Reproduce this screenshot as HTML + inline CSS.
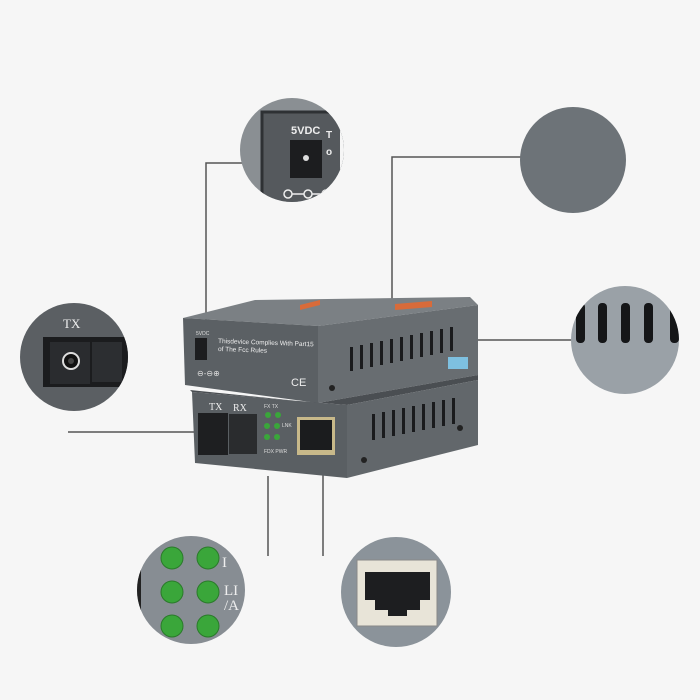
<!DOCTYPE html>
<html><head><meta charset="utf-8"><style>
html,body{margin:0;padding:0;background:#f6f6f6;}
svg{display:block;font-family:"Liberation Sans",sans-serif;}
</style></head><body>
<svg width="700" height="700" viewBox="0 0 700 700" xmlns="http://www.w3.org/2000/svg">
<defs>
<clipPath id="cp"><circle cx="292" cy="150" r="52"/></clipPath>
<clipPath id="ct"><circle cx="74" cy="357" r="54"/></clipPath>
<clipPath id="cv"><circle cx="625" cy="340" r="54"/></clipPath>
<clipPath id="cl"><circle cx="191" cy="590" r="54"/></clipPath>
<clipPath id="cr"><circle cx="396" cy="592" r="55"/></clipPath>
</defs>
<rect width="700" height="700" fill="#f6f6f6"/>
<!-- connector lines -->
<g stroke="#555" stroke-width="1.5" fill="none">
<polyline points="244,163 206,163 206,340"/>
<polyline points="521,157 392,157 392,300"/>
<line x1="455" y1="340" x2="573" y2="340"/>
<line x1="68" y1="432" x2="198" y2="432"/>
<line x1="268" y1="476" x2="268" y2="556"/>
<line x1="323" y1="472" x2="323" y2="556"/>
</g>
<!-- power circle -->
<g clip-path="url(#cp)">
<rect x="238" y="95" width="110" height="110" fill="#8a8f93"/>
<rect x="262" y="112" width="90" height="100" fill="#55595d" stroke="#2e3134" stroke-width="3"/>
<rect x="340" y="95" width="10" height="110" fill="#f6f6f6"/>
<text x="291" y="134" fill="#eee" font-size="11" font-weight="bold">5VDC</text>
<rect x="290" y="140" width="32" height="38" fill="#1c1d1f"/>
<circle cx="306" cy="158" r="3" fill="#ddd"/>
<text x="326" y="138" fill="#eee" font-size="10" font-weight="bold">T</text>
<text x="326" y="155" fill="#eee" font-size="10" font-weight="bold">o</text>
<g stroke="#eee" stroke-width="1.5" fill="none"><circle cx="288" cy="194" r="4"/><circle cx="308" cy="194" r="4"/><circle cx="326" cy="194" r="4"/><line x1="292" y1="194" x2="304" y2="194"/><line x1="312" y1="194" x2="322" y2="194"/></g>
</g>
<!-- plain circle -->
<circle cx="573" cy="160" r="53" fill="#6d7378"/>
<!-- TX circle -->
<g clip-path="url(#ct)">
<rect x="18" y="300" width="112" height="115" fill="#5b5f63"/>
<text x="63" y="328" fill="#eee" font-size="13" font-family="Liberation Serif,serif">TX</text>
<rect x="43" y="337" width="90" height="50" fill="#1b1c1e"/>
<rect x="50" y="342" width="40" height="42" fill="#2a2c2f"/>
<rect x="92" y="342" width="30" height="40" fill="#2c2e31"/>
<circle cx="71" cy="361" r="8" fill="#111" stroke="#ddd" stroke-width="2"/>
<circle cx="71" cy="361" r="3" fill="#444"/>
</g>
<!-- vent circle -->
<g clip-path="url(#cv)">
<rect x="568" y="283" width="115" height="115" fill="#9aa1a7"/>
<g fill="#151618"><rect x="576" y="303" width="9" height="40" rx="4"/><rect x="598" y="303" width="9" height="40" rx="4"/><rect x="621" y="303" width="9" height="40" rx="4"/><rect x="644" y="303" width="9" height="40" rx="4"/><rect x="670" y="303" width="9" height="40" rx="4"/></g>
</g>
<!-- LED circle -->
<g clip-path="url(#cl)">
<rect x="135" y="534" width="115" height="115" fill="#878d93"/>
<rect x="135" y="570" width="6" height="40" fill="#222"/>
<g fill="#3aa63a" stroke="#2a7a2a" stroke-width="1"><circle cx="172" cy="558" r="11"/><circle cx="208" cy="558" r="11"/><circle cx="172" cy="592" r="11"/><circle cx="208" cy="592" r="11"/><circle cx="172" cy="626" r="11"/><circle cx="208" cy="626" r="11"/></g>
<text x="224" y="595" fill="#eee" font-size="15" font-family="Liberation Serif,serif">LI</text>
<text x="224" y="610" fill="#eee" font-size="15" font-family="Liberation Serif,serif">/A</text>
<text x="222" y="567" fill="#eee" font-size="15" font-family="Liberation Serif,serif">I</text>
</g>
<!-- RJ45 circle -->
<g clip-path="url(#cr)">
<rect x="338" y="535" width="118" height="115" fill="#8b939a"/>
<rect x="357" y="560" width="80" height="66" fill="#e8e4d8" stroke="#888" stroke-width="1"/>
<path d="M365,572 H430 V600 H420 V610 H407 V616 H388 V610 H375 V600 H365 Z" fill="#1d1e20"/>
</g>
<!-- device: top unit -->
<polygon points="183,318 255,300 470,297 478,305 318,326" fill="#7b8084"/>
<polygon points="300,305 320,300 320,305 300,310" fill="#d86b3a"/>
<polygon points="395,304 432,301 432,307 395,310" fill="#d86b3a"/>
<polygon points="183,318 318,326 318,403 185,385" fill="#5b6064"/>
<polygon points="318,326 478,305 478,375 318,403" fill="#686d71"/>
<!-- bottom unit -->
<polygon points="190,390 318,403 478,375 478,380 347,405 192,392" fill="#4a4e52"/>
<polygon points="192,392 347,405 347,478 195,463" fill="#5a5f63"/>
<polygon points="347,405 478,380 478,445 347,478" fill="#62676b"/>
<!-- top details -->
<rect x="195" y="338" width="12" height="22" fill="#1c1d1f"/>
<text x="196" y="335" fill="#ddd" font-size="5">5VDC</text>
<text x="218" y="343" fill="#eee" font-size="6.5" transform="rotate(2 218 343)">Thisdevice Complies With Part15</text>
<text x="218" y="351" fill="#eee" font-size="6.5" transform="rotate(2 218 351)">of The Fcc Rules</text>
<text x="197" y="376" fill="#ddd" font-size="8">⊖-⊖⊕</text>
<text x="291" y="386" fill="#eee" font-size="11">CE</text>
<g fill="#1a1b1d">
<rect x="350" y="347" width="3" height="24"/><rect x="360" y="345" width="3" height="24"/><rect x="370" y="343" width="3" height="24"/><rect x="380" y="341" width="3" height="24"/><rect x="390" y="339" width="3" height="24"/><rect x="400" y="337" width="3" height="24"/><rect x="410" y="335" width="3" height="24"/><rect x="420" y="333" width="3" height="24"/><rect x="430" y="331" width="3" height="24"/><rect x="440" y="329" width="3" height="24"/><rect x="450" y="327" width="3" height="24"/>
</g>
<rect x="448" y="357" width="20" height="12" fill="#7ec0e0"/>
<circle cx="332" cy="388" r="3" fill="#222"/>
<!-- bottom details -->
<text x="209" y="410" fill="#eee" font-size="10" font-family="Liberation Serif,serif">TX</text>
<text x="233" y="411" fill="#eee" font-size="10" font-family="Liberation Serif,serif">RX</text>
<rect x="198" y="413" width="30" height="42" fill="#1e1f21"/>
<rect x="229" y="414" width="28" height="40" fill="#2a2c2e"/>
<g fill="#3aa63a"><circle cx="268" cy="415" r="3"/><circle cx="278" cy="415" r="3"/><circle cx="267" cy="426" r="3"/><circle cx="277" cy="426" r="3"/><circle cx="267" cy="437" r="3"/><circle cx="277" cy="437" r="3"/></g>
<text x="264" y="408" fill="#ddd" font-size="5">FX TX</text>
<text x="282" y="427" fill="#ddd" font-size="5">LNK</text>
<text x="264" y="453" fill="#ddd" font-size="5">FDX PWR</text>
<rect x="297" y="417" width="38" height="38" fill="#c8b98a"/>
<rect x="300" y="420" width="32" height="30" fill="#1b1c1e"/>
<g fill="#1a1b1d">
<rect x="372" y="414" width="3" height="26"/><rect x="382" y="412" width="3" height="26"/><rect x="392" y="410" width="3" height="26"/><rect x="402" y="408" width="3" height="26"/><rect x="412" y="406" width="3" height="26"/><rect x="422" y="404" width="3" height="26"/><rect x="432" y="402" width="3" height="26"/><rect x="442" y="400" width="3" height="26"/><rect x="452" y="398" width="3" height="26"/>
</g>
<circle cx="364" cy="460" r="3" fill="#222"/>
<circle cx="460" cy="428" r="3" fill="#222"/>
</svg>
</body></html>
